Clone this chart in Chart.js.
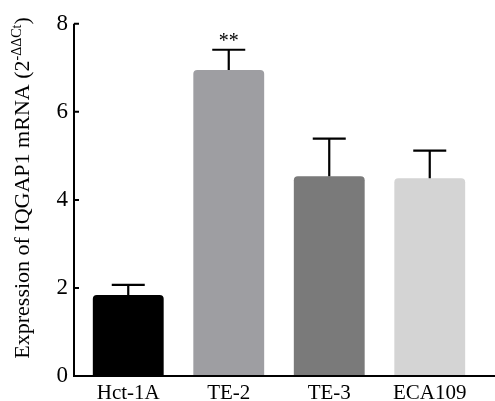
<!DOCTYPE html>
<html>
<head>
<meta charset="utf-8">
<script src="https://cdn.jsdelivr.net/npm/chart.js@4"></script>
<style>
  html, body { margin: 0; padding: 0; background: #fff; }
  #wrap { width: 495px; height: 401px; }
</style>
</head>
<body>
<div id="wrap"><canvas id="expChart" width="495" height="401"></canvas></div>
<script>
const labels = ['Hct-1A', 'TE-2', 'TE-3', 'ECA109'];
const values = [1.84, 6.95, 4.54, 4.49];
const errUpper = [2.07, 7.41, 5.39, 5.12];
const signif = ['', '**', '', ''];
const colors = ['#000000', '#9e9ea2', '#7a7a7a', '#d4d4d4'];
const yTicks = [0, 2, 4, 6, 8];

const serif = '"Liberation Serif", "Times New Roman", serif';

// axes lines, inward ticks, error bars, stars, y title
const decor = {
  id: 'decor',
  afterDatasetsDraw(chart) {
    const c = chart.ctx;
    const x = chart.scales.x, y = chart.scales.y;
    const axisX = chart.chartArea.left - 4;
    const y0 = y.getPixelForValue(0);
    c.save();
    c.strokeStyle = '#000';
    c.lineWidth = 2;
    c.beginPath();
    c.moveTo(axisX, y.getPixelForValue(8));
    c.lineTo(axisX, y0);
    c.lineTo(chart.width, y0);
    yTicks.forEach(t => {
      const py = y.getPixelForValue(t);
      c.moveTo(axisX, py);
      c.lineTo(axisX + 5, py);
    });
    c.stroke();

    // error bars
    const meta = chart.getDatasetMeta(0);
    c.lineWidth = 2.2;
    meta.data.forEach((bar, i) => {
      const top = y.getPixelForValue(values[i]);
      const cap = y.getPixelForValue(errUpper[i]);
      c.beginPath();
      c.moveTo(bar.x, top);
      c.lineTo(bar.x, cap);
      c.moveTo(bar.x - 16.5, cap);
      c.lineTo(bar.x + 16.5, cap);
      c.stroke();
      if (signif[i]) {
        c.fillStyle = '#000';
        c.font = '20px ' + serif;
        c.textAlign = 'center';
        c.textBaseline = 'alphabetic';
        c.fillText(signif[i], bar.x, cap - 3);
      }
    });

    // y axis title with superscript
    c.translate(29, 188);
    c.rotate(-Math.PI / 2);
    c.fillStyle = '#000';
    c.textBaseline = 'alphabetic';
    c.textAlign = 'left';
    const main = 'Expression of IQGAP1 mRNA (2';
    const sup = '-ΔΔCt';
    c.font = '22px ' + serif;
    const w1 = c.measureText(main).width;
    const w3 = c.measureText(')').width;
    c.font = '14px ' + serif;
    const w2 = c.measureText(sup).width;
    let sx = -(w1 + w2 + w3) / 2;
    c.font = '22px ' + serif;
    c.fillText(main, sx, 0);
    sx += w1;
    c.font = '14px ' + serif;
    c.fillText(sup, sx, -8);
    sx += w2;
    c.font = '22px ' + serif;
    c.fillText(')', sx, 0);
    c.restore();
  }
};

const ctx = document.getElementById('expChart').getContext('2d');
const myChart = new Chart(ctx, {
  type: 'bar',
  data: {
    labels: labels,
    datasets: [{
      data: values,
      backgroundColor: colors,
      borderWidth: 0,
      borderRadius: { topLeft: 4, topRight: 4 },
      borderSkipped: 'bottom',
      categoryPercentage: 1,
      barPercentage: 0.705
    }]
  },
  options: {
    responsive: false,
    animation: false,
    layout: { padding: { left: 0, right: 15, top: 15, bottom: 0 } },
    plugins: { legend: { display: false }, tooltip: { enabled: false } },
    scales: {
      x: {
        grid: { display: false, drawTicks: false },
        border: { display: false },
        ticks: { color: '#000', font: { family: serif, size: 21 }, padding: 5 },
        afterFit: s => { s.height = 25; }
      },
      y: {
        min: 0,
        max: 8,
        grid: { display: false, drawTicks: false },
        border: { display: false },
        afterBuildTicks: s => { s.ticks = yTicks.map(v => ({ value: v })); },
        ticks: { color: '#000', font: { family: serif, size: 23 }, padding: 10 },
        afterFit: s => { s.width = 78; }
      }
    }
  },
  plugins: [decor]
});
</script>
</body>
</html>
